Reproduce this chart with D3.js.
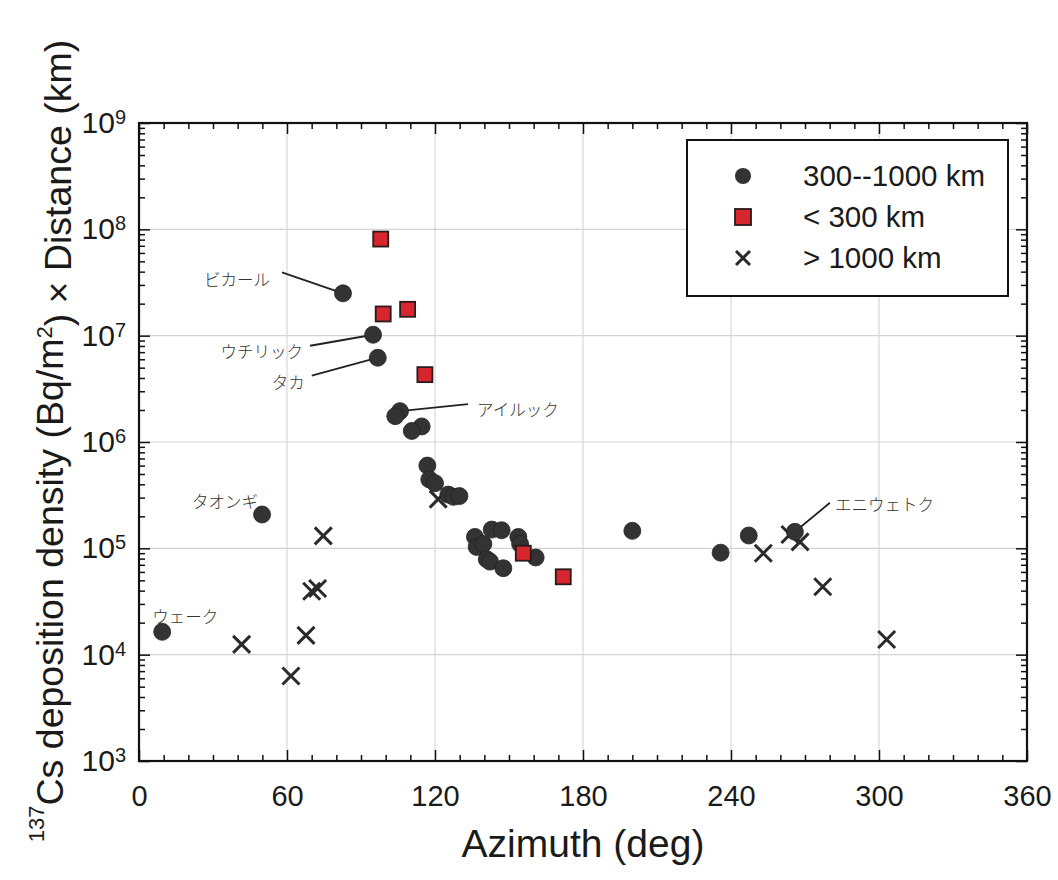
<!DOCTYPE html>
<html>
<head>
    <meta charset="utf-8">
    <title>137Cs deposition vs azimuth</title>
    <script src="https://d3js.org/d3.v7.min.js"></script>
    <style>
        body { margin: 0; background: #fff; }
        svg text { font-family: "Liberation Sans", Arial, Helvetica, sans-serif; fill: #1a1a1a; }
        .jp { font-family: "Noto Sans CJK JP", sans-serif; font-size: 16.5px; font-weight: 300; fill: #333; }
    </style>
</head>
<body>
<div id="chart"></div>
<script>
    // 300--1000 km (filled circles)
    const midAz  = [82.7, 94.9, 96.8, 105.8, 103.9, 114.6, 110.6, 116.9, 117.7, 120.0, 125.4, 127.5, 129.9,
                    136.2, 136.9, 139.6, 141.0, 142.3, 143.0, 147.0, 147.7, 153.8, 154.5, 160.8,
                    49.9, 9.4, 200.0, 235.8, 247.2, 265.9];
    const midVal = [2.5e7, 1.02e7, 6.2e6, 1.95e6, 1.75e6, 1.4e6, 1.27e6, 6.0e5, 4.45e5, 4.1e5, 3.2e5, 3.05e5, 3.1e5,
                    1.28e5, 1.03e5, 1.1e5, 7.9e4, 7.5e4, 1.5e5, 1.48e5, 6.5e4, 1.28e5, 1.1e5, 8.2e4,
                    2.08e5, 1.64e4, 1.46e5, 9.1e4, 1.32e5, 1.43e5];

    // < 300 km (red squares)
    const nearAz  = [98.0, 99.0, 108.9, 115.9, 155.8, 172.0];
    const nearVal = [8.1e7, 1.6e7, 1.77e7, 4.3e6, 9.0e4, 5.4e4];

    // > 1000 km (crosses)
    const farAz  = [121.3, 74.7, 70.0, 72.4, 67.7, 41.6, 61.6, 253.1, 263.9, 268.0, 277.2, 303.1];
    const farVal = [2.9e5, 1.31e5, 3.95e4, 4.19e4, 1.52e4, 1.25e4, 6.3e3, 9.0e4, 1.35e5, 1.15e5, 4.35e4, 1.39e4];

    // named sites
    const siteNames = ["ビカール", "ウチリック", "タカ", "アイルック", "タオンギ", "ウェーク", "エニウェトク"];
    const siteAz    = [82.7, 94.9, 96.8, 105.8, 49.9, 9.4, 265.9];
    const siteVal   = [2.5e7, 1.02e7, 6.2e6, 1.95e6, 2.08e5, 1.64e4, 1.43e5];

    const xTicks = [0, 60, 120, 180, 240, 300, 360];
    const yTicks = [1e3, 1e4, 1e5, 1e6, 1e7, 1e8, 1e9];
    const legendLabels = ["300--1000 km", "< 300 km", "> 1000 km"];

    const W = 1058, H = 880;
    const margin = { top: 123, right: 31, bottom: 119, left: 139 };
    const width = W - margin.left - margin.right;
    const height = H - margin.top - margin.bottom;

    const svg = d3.select("#chart").append("svg")
        .attr("width", W).attr("height", H);
    const g = svg.append("g")
        .attr("transform", "translate(" + margin.left + "," + margin.top + ")");

    const x = d3.scaleLinear().domain([0, 360]).range([0, width]);
    const y = d3.scaleLog().domain([1e3, 1e9]).range([height, 0]);

    // minor tick values
    const xMinor = d3.range(0, 361, 10).filter(d => d % 60 !== 0);
    const yMinor = [];
    for (let e = 3; e < 9; e++) for (let m = 2; m <= 9; m++) yMinor.push(m * Math.pow(10, e));

    // grid
    g.append("g").selectAll("line").data(xTicks.slice(1, -1)).enter().append("line")
        .attr("x1", d => x(d)).attr("x2", d => x(d)).attr("y1", 0).attr("y2", height)
        .attr("stroke", "#d4d4d4").attr("stroke-width", 1.1);
    g.append("g").selectAll("line").data(yTicks.slice(1, -1)).enter().append("line")
        .attr("y1", d => y(d)).attr("y2", d => y(d)).attr("x1", 0).attr("x2", width)
        .attr("stroke", "#d4d4d4").attr("stroke-width", 1.1);

    // axes (ticks inward on all four sides)
    function styleAxis(sel) {
        sel.select(".domain").remove();
        sel.selectAll(".tick line").attr("stroke", "#111").attr("stroke-width", 1.5);
    }
    const bottom = g.append("g").attr("transform", "translate(0," + height + ")")
        .call(d3.axisBottom(x).tickValues(xTicks).tickSize(-11).tickPadding(24));
    bottom.call(styleAxis);
    bottom.selectAll("text").style("font-size", "29px");
    g.append("g").attr("transform", "translate(0," + height + ")")
        .call(d3.axisBottom(x).tickValues(xMinor).tickSize(-6).tickFormat("")).call(styleAxis);
    g.append("g").call(d3.axisTop(x).tickValues(xTicks).tickSize(-11).tickFormat("")).call(styleAxis);
    g.append("g").call(d3.axisTop(x).tickValues(xMinor).tickSize(-6).tickFormat("")).call(styleAxis);

    const left = g.append("g")
        .call(d3.axisLeft(y).tickValues(yTicks).tickSize(-11).tickPadding(13).tickFormat(""));
    left.call(styleAxis);
    left.selectAll(".tick text").each(function (d) {
        const t = d3.select(this).style("font-size", "30px");
        t.append("tspan").text("10");
        t.append("tspan").attr("dy", "-0.45em").style("font-size", "20px").text(Math.round(Math.log10(d)));
    });
    g.append("g").call(d3.axisLeft(y).tickValues(yMinor).tickSize(-6).tickFormat("")).call(styleAxis);
    g.append("g").attr("transform", "translate(" + width + ",0)")
        .call(d3.axisRight(y).tickValues(yTicks).tickSize(-11).tickFormat("")).call(styleAxis);
    g.append("g").attr("transform", "translate(" + width + ",0)")
        .call(d3.axisRight(y).tickValues(yMinor).tickSize(-6).tickFormat("")).call(styleAxis);

    // frame
    g.append("rect").attr("width", width).attr("height", height)
        .attr("fill", "none").attr("stroke", "#111").attr("stroke-width", 2.2);

    // symbol helpers
    const circleFill = "#333333", squareFill = "#d8262e";
    function drawCross(sel, s) {
        sel.append("path")
            .attr("d", `M${-s},${-s}L${s},${s}M${-s},${s}L${s},${-s}`)
            .attr("stroke", "#2a2a2a").attr("stroke-width", 3).attr("fill", "none");
    }
    function drawSquare(sel, s) {
        sel.append("rect").attr("x", -s).attr("y", -s).attr("width", 2 * s).attr("height", 2 * s)
            .attr("fill", squareFill).attr("stroke", "#2a1a1a").attr("stroke-width", 1.8);
    }

    // annotation layout: text offset, anchor, leader line start offset (px)
    const annot = [
        { tx: -73, ty: -13, anchor: "end",    lx: -61, ly: -21 },
        { tx: -70, ty: 17,  anchor: "end",    lx: -63, ly: 11 },
        { tx: -73, ty: 25,  anchor: "end",    lx: -66, ly: 18 },
        { tx: 77,  ty: -1,  anchor: "start",  lx: 68,  ly: -7 },
        { tx: -37, ty: -13, anchor: "middle", lx: null },
        { tx: -10, ty: -15, anchor: "start",  lx: null },
        { tx: 40,  ty: -27, anchor: "start",  lx: 35,  ly: -29 }
    ];
    const ann = g.append("g");
    siteNames.forEach((name, i) => {
        const px = x(siteAz[i]), py = y(siteVal[i]), a = annot[i];
        if (a.lx !== null) {
            ann.append("line").attr("x1", px + a.lx).attr("y1", py + a.ly).attr("x2", px).attr("y2", py)
                .attr("stroke", "#222").attr("stroke-width", 1.8);
        }
        ann.append("text").attr("class", "jp").attr("x", px + a.tx).attr("y", py + a.ty + 6)
            .attr("text-anchor", a.anchor).text(name);
    });

    // points: crosses, then circles, then squares
    g.append("g").selectAll("g").data(farAz.map((a, i) => [a, farVal[i]])).enter().append("g")
        .attr("transform", d => `translate(${x(d[0])},${y(d[1])})`)
        .each(function () { drawCross(d3.select(this), 8.5); });
    g.append("g").selectAll("circle").data(midAz.map((a, i) => [a, midVal[i]])).enter().append("circle")
        .attr("cx", d => x(d[0])).attr("cy", d => y(d[1])).attr("r", 8.5)
        .attr("fill", circleFill).attr("stroke", "#222").attr("stroke-width", 0.8);
    g.append("g").selectAll("g").data(nearAz.map((a, i) => [a, nearVal[i]])).enter().append("g")
        .attr("transform", d => `translate(${x(d[0])},${y(d[1])})`)
        .each(function () { drawSquare(d3.select(this), 7.5); });

    // legend
    const lg = svg.append("g").attr("transform", "translate(687,140)");
    lg.append("rect").attr("width", 321).attr("height", 156)
        .attr("fill", "#fff").attr("stroke", "#111").attr("stroke-width", 2);
    legendLabels.forEach((lab, i) => {
        const row = lg.append("g").attr("transform", `translate(56,${36 + i * 41})`);
        if (i === 0) row.append("circle").attr("r", 8).attr("fill", circleFill);
        if (i === 1) drawSquare(row, 8);
        if (i === 2) drawCross(row, 7);
        row.append("text").attr("x", 60).attr("y", 10).style("font-size", "29.5px").text(lab);
    });

    // axis titles
    svg.append("text").attr("x", margin.left + width / 2).attr("y", 857)
        .attr("text-anchor", "middle").style("font-size", "39px").text("Azimuth (deg)");

    const yt = svg.append("text").attr("transform", "translate(55,441) rotate(-90)")
        .attr("text-anchor", "middle").style("font-size", "37.5px");
    yt.append("tspan").attr("dy", "-0.5em").style("font-size", "22px").text("137");
    yt.append("tspan").attr("dy", "0.5em").text("Cs deposition density (Bq/m");
    yt.append("tspan").attr("dy", "-0.5em").style("font-size", "22px").text("2");
    yt.append("tspan").attr("dy", "0.5em").text(") × Distance (km)");
</script>
</body>
</html>
